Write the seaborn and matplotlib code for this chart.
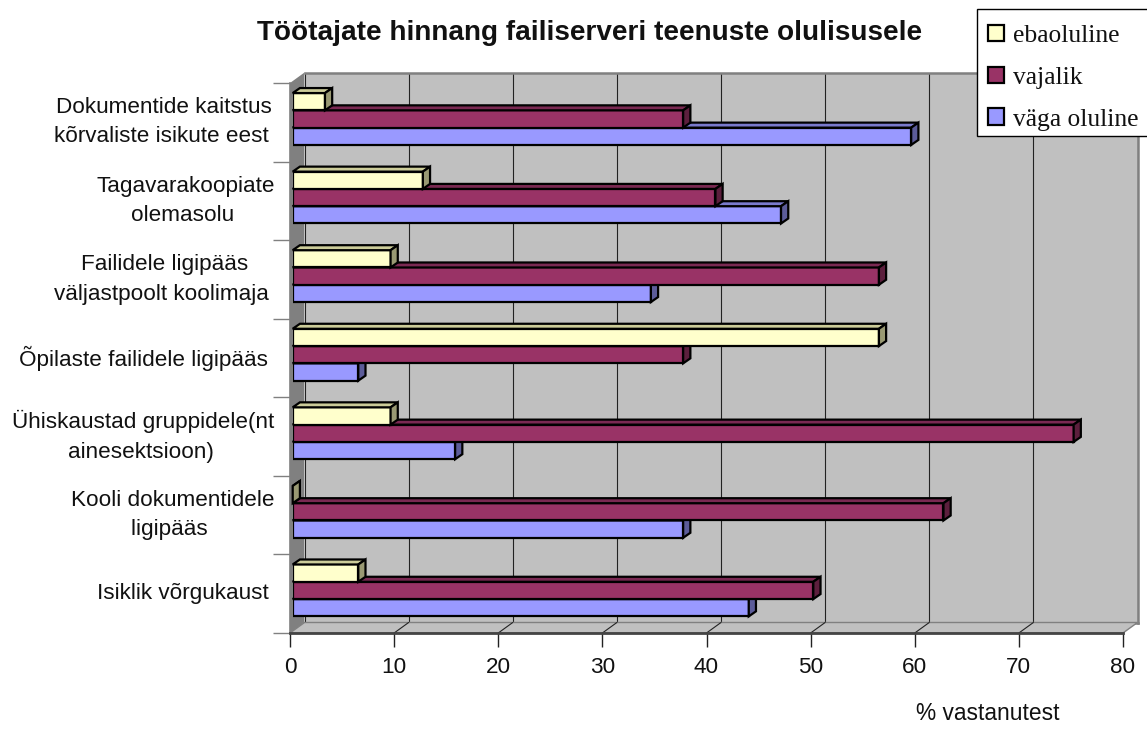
import matplotlib
matplotlib.use("Agg")
import matplotlib.pyplot as plt
from matplotlib.patches import Polygon, Patch, Rectangle
import pandas as pd
import seaborn as sns

categories = ["Dokumentide kaitstus\nkõrvaliste isikute eest ",
              "Tagavarakoopiate\nolemasolu ",
              "Failidele ligipääs\nväljastpoolt koolimaja ",
              "Õpilaste failidele ligipääs ",
              "Ühiskaustad gruppidele(nt\nainesektsioon) ",
              "Kooli dokumentidele\nligipääs ",
              "Isiklik võrgukaust "]
ebaoluline = [3.1, 12.5, 9.4, 56.3, 9.4, 0.0, 6.3]
vajalik = [37.5, 40.6, 56.3, 37.5, 75.0, 62.5, 50.0]
vaga_oluline = [59.4, 46.9, 34.4, 6.3, 15.6, 37.5, 43.8]
levels = ["ebaoluline", "vajalik", "väga oluline"]
x_ticks = [0, 10, 20, 30, 40, 50, 60, 70, 80]

front_colors = ["#FFFFCC", "#993366", "#9999FF"]
top_colors = ["#CCCC99", "#7A2952", "#7A7ACC"]
side_colors = ["#999973", "#5C1F3D", "#5C5C99"]

W, H = 1147, 754
sns.set_style("white")
plt.rcParams["font.family"] = ["Liberation Sans", "DejaVu Sans"]

df = pd.DataFrame({"cat": categories, levels[0]: ebaoluline, levels[1]: vajalik, levels[2]: vaga_oluline})
long = df.melt(id_vars="cat", var_name="level", value_name="value")

fig = plt.figure(figsize=(W / 100, H / 100), dpi=100, facecolor="white")


def px_axes(left, top, right, bottom):
    return fig.add_axes([left / W, 1 - bottom / H, (right - left) / W, (bottom - top) / H])


L, R, T, B = 290.0, 1123.0, 83.0, 633.0
DX, DY = 14.5, 10.5
px_x = (R - L) / 80
px_y = (B - T) / 7

# back wall with the gridlines
back = px_axes(L + DX, T - DY, R + DX, B - DY)
back.set_xlim(0, 80)
back.set_ylim(6.5, -0.5)
back.set_facecolor("#C0C0C0")
back.set_xticks(x_ticks)
back.set_yticks([])
back.tick_params(bottom=False, labelbottom=False)
back.grid(axis="x", color="#222222", lw=0.8)
for s in ["top", "right", "bottom"]:
    back.spines[s].set_color("#808080")
    back.spines[s].set_linewidth(1.8)
back.spines["left"].set_visible(False)

# front plane: left wall, floor, ticks
ax = px_axes(L, T, R, B)
ax.patch.set_alpha(0)
ax.set_xlim(0, 80)
ax.set_ylim(6.5, -0.5)
wx, wy = DX / px_x, DY / px_y
ax.add_patch(Polygon([(0, -0.5), (wx, -0.5 - wy), (wx, 6.5 - wy), (0, 6.5)], fc="#808080", ec="none",
                     clip_on=False, zorder=1))
ax.add_patch(Polygon([(0, 6.5), (wx, 6.5 - wy), (80 + wx, 6.5 - wy), (80, 6.5)], fc="#C0C0C0", ec="#808080",
                     lw=1.0, clip_on=False, zorder=1))
for t in x_ticks[1:-1]:
    ax.plot([t, t + wx], [6.5, 6.5 - wy], color="#222222", lw=0.8, zorder=2, clip_on=False)
ax.set_xticks(x_ticks)
ax.set_yticks([i - 0.5 for i in range(8)])
ax.set_yticklabels([])
ax.set_yticks(range(7), labels=categories, minor=True, multialignment="center", fontsize=16.2, color="#111111",
              linespacing=1.52, va="center")
ax.tick_params(axis="x", bottom=True, length=10, width=1.0, color="#222222", labelsize=16.2, pad=7,
               labelcolor="#111111")
ax.tick_params(axis="y", which="major", left=True, length=12, width=1.0, color="#808080")
ax.tick_params(axis="y", which="minor", left=True, length=0, pad=11)
for s in ["top", "right"]:
    ax.spines[s].set_visible(False)
ax.spines["left"].set_color("#808080")
ax.spines["left"].set_linewidth(1.2)
ax.spines["bottom"].set_color("#444444")
ax.spines["bottom"].set_linewidth(2.0)

# bars on their own plane, set a little into the depth
SX, SY = 2.7, 3.3
bars = px_axes(L + SX, T - SY, R + SX, B - SY)
bars.patch.set_alpha(0)
sns.barplot(data=long, y="cat", x="value", hue="level", hue_order=levels, palette=front_colors, order=categories,
            orient="h", width=0.66, gap=0, dodge=True, saturation=1, edgecolor="black", linewidth=1.6,
            legend=False, ax=bars)
bars.set_xlim(0, 80)
bars.set_ylim(6.5, -0.5)
bars.axis("off")

bx, by = 7.2 / px_x, 5.0 / px_y
for i, cont in enumerate(bars.containers):
    z = 5 + (2 - i)
    for p in cont:
        x0, y0 = p.get_x(), p.get_y()
        w, h = p.get_width(), p.get_height()
        yt, yb = min(y0, y0 + h), max(y0, y0 + h)
        p.set_zorder(z)
        bars.add_patch(Polygon([(x0, yt), (x0 + w, yt), (x0 + w + bx, yt - by), (x0 + bx, yt - by)],
                               fc=top_colors[i], ec="black", lw=1.6, zorder=z, clip_on=False))
        bars.add_patch(Polygon([(x0 + w, yt), (x0 + w + bx, yt - by), (x0 + w + bx, yb - by), (x0 + w, yb)],
                               fc=side_colors[i], ec="black", lw=1.6, zorder=z, clip_on=False))

fig.text(590 / W, 1 - 33 / H, "Töötajate hinnang failiserveri teenuste olulisusele", ha="center", va="center",
         fontsize=20.1, fontweight="bold", color="#111111")
fig.text(988 / W, 1 - 714 / H, "% vastanutest", ha="center", va="center", fontsize=16.4, color="#111111")

# legend box runs off the right edge of the picture
fig.add_artist(Rectangle((977 / W, 1 - 136 / H), 190 / W, 127 / H, transform=fig.transFigure, fc="white",
                         ec="black", lw=1.0, zorder=1))
handles = [Patch(fc=c, ec="black", lw=1.6) for c in front_colors]
leg = fig.legend(handles, levels, loc="upper left", bbox_to_anchor=(977 / W, 1 - 14 / H), borderaxespad=0,
                 frameon=False, prop={"family": "Liberation Serif", "size": 18.4},
                 handlelength=0.63, handleheight=0.63, handletextpad=0.35, labelspacing=0.76, borderpad=0.42)
leg.set_zorder(5)
for t in leg.get_texts():
    t.set_color("#111111")

fig.savefig("out.png", dpi=100)
